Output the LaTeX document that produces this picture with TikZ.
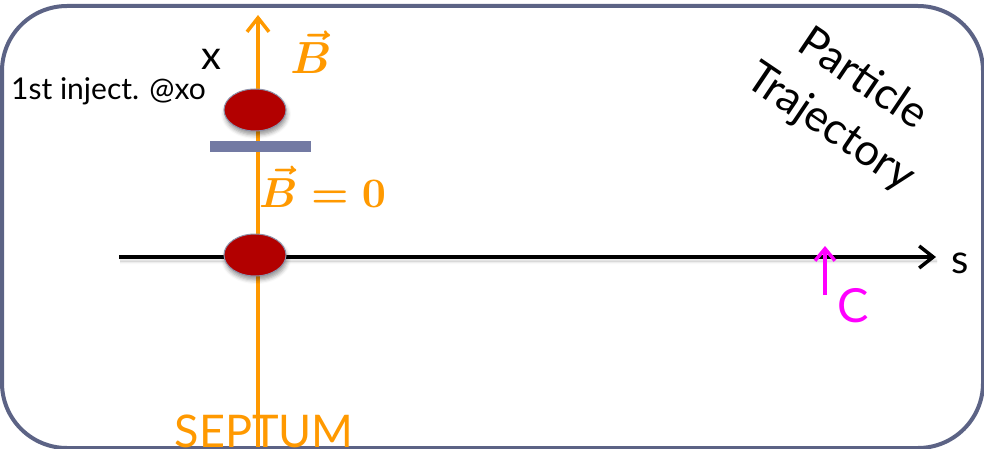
\documentclass[tikz,border=0pt]{standalone}
\usepackage{amsmath}
\usepackage{fontspec}
\setmainfont{Lato}
\usetikzlibrary{arrows.meta,shapes.geometric,shadows.blur}
\definecolor{septorange}{HTML}{FF9900}
\definecolor{boxline}{HTML}{5C6385}
\definecolor{barfill}{HTML}{737AA3}
\definecolor{beamred}{HTML}{B20000}
\definecolor{cmag}{HTML}{FF00FF}
\tikzset{
  axisline/.style={line width=4pt},
  chev/.style={-{Straight Barb[length=14pt,width=22pt,line width=3.5pt]}},
  beam/.style={ellipse, fill=beamred, draw=boxline!70, line width=1pt,
    minimum width=62pt, minimum height=42pt, inner sep=0pt,
    blur shadow={shadow xshift=1pt, shadow yshift=-4pt, shadow blur radius=4pt, shadow opacity=40}},
  lbl/.style={inner sep=0pt, font=\fontsize{#1}{#1}\selectfont},
  blbl/.style={inner sep=0pt, text=septorange},
}
\begin{document}
\begin{tikzpicture}[x=1pt,y=-1pt]
\useasboundingbox (0,0) rectangle (984,449);
% frame
\draw[boxline, line width=4pt, rounded corners=65pt] (2,6) rectangle (983,448);
% septum axis
\coordinate (sb) at (258,447);
\coordinate (st) at (258,15);
\draw[axisline, septorange, line width=3.5pt, chev] (sb) -- (st);
% s axis
\coordinate (sl) at (119,257);
\coordinate (sr) at (936,257);
\draw[axisline, black, chev, blur shadow={shadow xshift=1pt, shadow yshift=-4pt, shadow blur radius=3pt, shadow opacity=30}] (sl) -- (sr);
% septum blade
\node[fill=barfill, minimum width=101pt, minimum height=11pt, inner sep=0pt] (bar) at (260,146.5) {};
% beams
\node[beam] (b1) at (255,110) {};
\node[beam] (b2) at (255,255) {};
% C arrow
\coordinate (cb) at (825,295);
\coordinate (ct) at (825,246);
\draw[cmag, line width=4pt, -{Straight Barb[length=12pt,width=20pt,line width=3.5pt]}] (cb) -- (ct);
% labels
\node[lbl=40, anchor=base] (xl) at (211,70) {x};
\node[lbl=30, anchor=base west] (inj) at (11,100) {1st inject. @xo};
\node[lbl=40, anchor=base] (sl2) at (960,273) {s};
\node[lbl=47, anchor=base, text=cmag] (cl) at (853,322) {C};
\node[lbl=45, anchor=base, text=septorange] (sep) at (264,447) {SEPTUM};
\node[blbl, anchor=base] (B1) at (311,74) {\scalebox{4.5}{$\boldsymbol{\vec{B}}$}};
\node[blbl, anchor=base west] (B2) at (259,207) {\scalebox{4.2}{$\boldsymbol{\vec{B} = 0}$}};
\node[inner sep=0pt, font=\fontsize{44}{58}\selectfont, rotate=-34, align=center] (pt) at (846,104) {Particle\\Trajectory};
\end{tikzpicture}
\end{document}
